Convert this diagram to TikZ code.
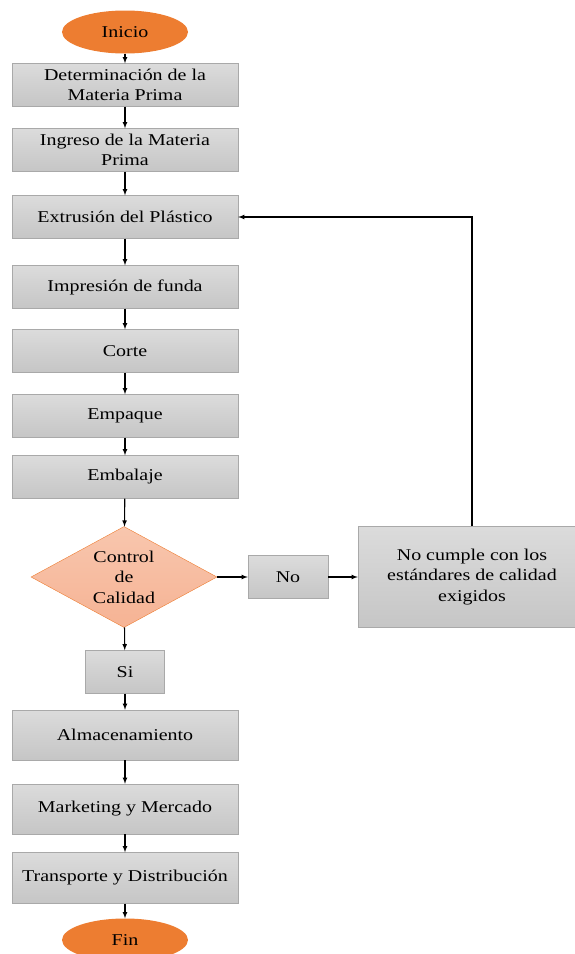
\documentclass[tikz,border=0pt]{standalone}
\usepackage{fontspec}
\setmainfont[FakeStretch=1.21]{Liberation Serif}
\usetikzlibrary{shapes.geometric}
\definecolor{naranja}{HTML}{ED7D31}
\definecolor{rombo}{HTML}{F5AE8B}
\definecolor{borde}{HTML}{A9A9A9}

\begin{document}
\begin{tikzpicture}[x=1pt, y=-1pt,
    caja/.style={draw=borde, top color=gray!28, bottom color=gray!45,
      minimum width=226pt, minimum height=43pt, inner sep=0pt, align=center},
    inicial/.style={ellipse, fill=naranja, minimum width=126pt, minimum height=43pt, inner sep=0pt},
    decision/.style={diamond, shape aspect=1.84, draw=naranja, top color=rombo!70,
      bottom color=rombo!110!naranja, minimum width=186pt, minimum height=101pt,
      inner sep=0pt, align=center},
    flecha/.style={-latex, line width=1.1pt},
    every node/.style={font=\fontsize{16.5}{20.5}\selectfont}]
  \useasboundingbox (0,0) rectangle (575,954);
  \clip (0,0) rectangle (575,954);
  \def\cx{125}
  \node[inicial] (inicio) at (\cx, 32) {Inicio};
  \node[caja] (materia) at (\cx, 85) {Determinación de la\\Materia Prima};
  \node[caja] (ingreso) at (\cx, 150) {Ingreso de la Materia\\Prima};
  \node[caja] (extrusion) at (\cx, 217) {Extrusión del Plástico};
  \node[caja] (impresion) at (\cx, 287) {Impresión de funda};
  \node[caja] (corte) at (\cx, 351) {Corte};
  \node[caja] (empaque) at (\cx, 416) {Empaque};
  \node[caja] (embalaje) at (\cx, 477) {Embalaje};
  \node[decision] (control) at (124, 577) {Control\\de\\Calidad};
  \node[caja, minimum width=79pt] (si) at (\cx, 672) {Si};
  \node[caja, minimum width=80pt] (no) at (288, 577) {No};
  \node[caja, minimum width=228pt, minimum height=101pt] (nocumple) at (472, 577)
    {No cumple con los\\estándares de calidad\\exigidos};
  \node[caja, minimum height=50pt] (almacen) at (\cx, 735) {Almacenamiento};
  \node[caja, minimum height=50pt] (marketing) at (\cx, 809) {Marketing y Mercado};
  \node[caja, minimum height=51pt] (transporte) at (\cx, 878) {Transporte y Distribución};
  \node[inicial] (fin) at (\cx, 940) {Fin};

  \draw[flecha] (inicio) -- (materia);
  \draw[flecha] (materia) -- (ingreso);
  \draw[flecha] (ingreso) -- (extrusion);
  \draw[flecha] (extrusion) -- (impresion);
  \draw[flecha] (impresion) -- (corte);
  \draw[flecha] (corte) -- (empaque);
  \draw[flecha] (empaque) -- (embalaje);
  \draw[flecha] (embalaje) -- (control);
  \draw[flecha] (control) -- (si);
  \draw[flecha] (control) -- (no);
  \draw[flecha] (no) -- (nocumple);
  \draw[flecha] (nocumple.north) |- (extrusion.east);
  \draw[flecha] (si) -- (almacen);
  \draw[flecha] (almacen) -- (marketing);
  \draw[flecha] (marketing) -- (transporte);
  \draw[flecha] (transporte) -- (fin);
\end{tikzpicture}
\end{document}
